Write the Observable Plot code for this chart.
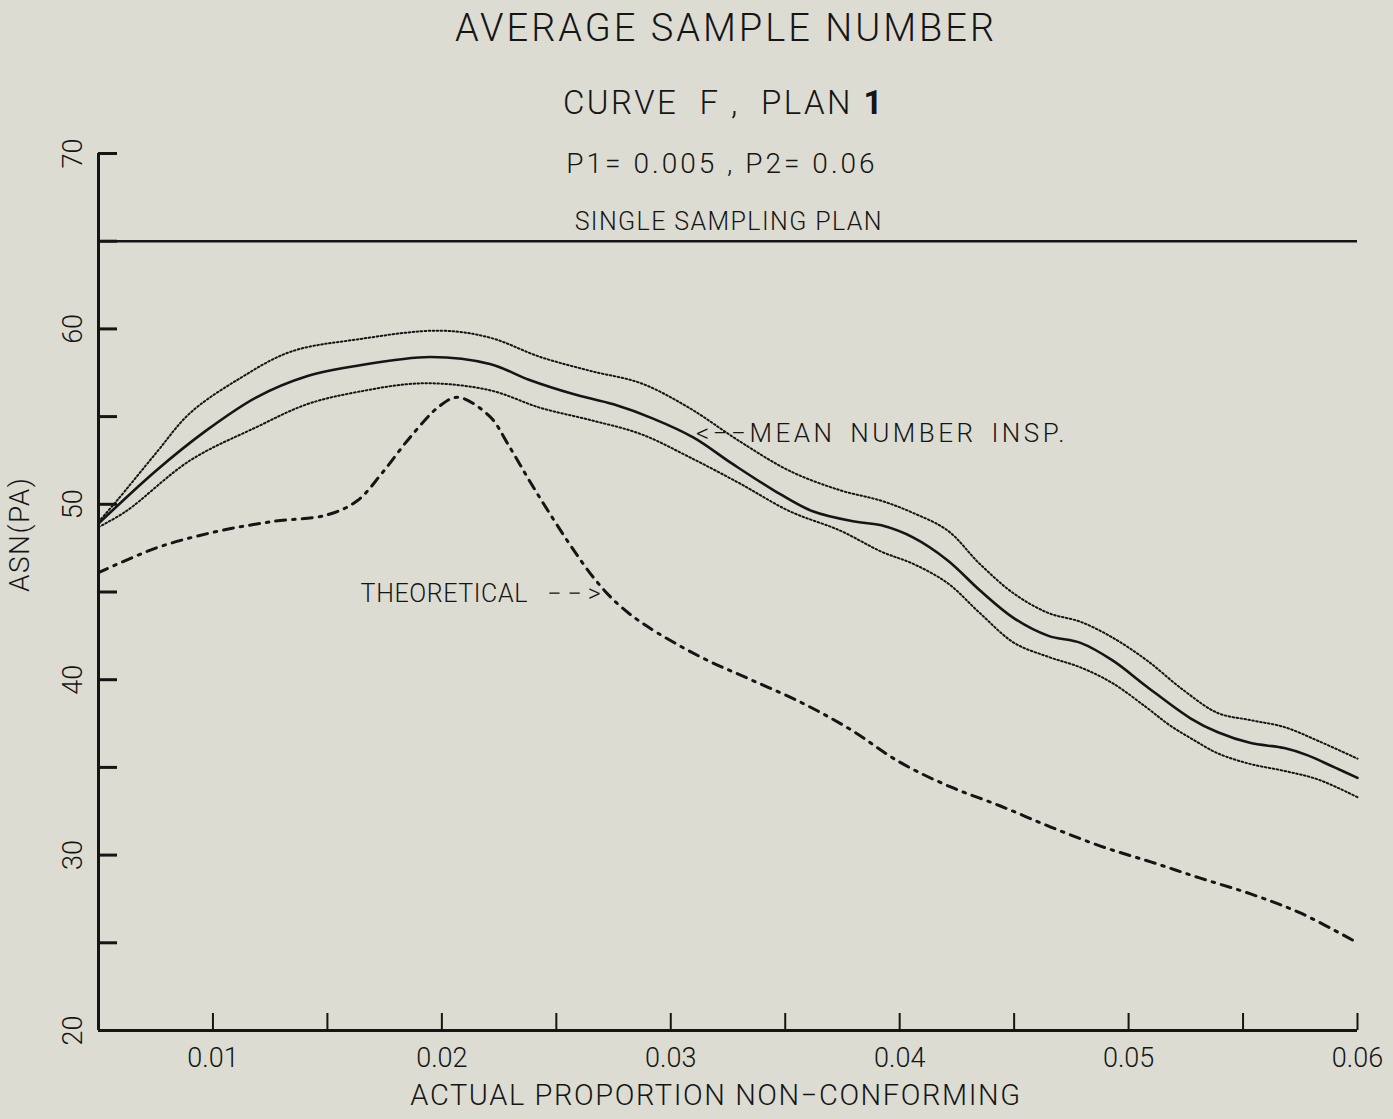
<!DOCTYPE html>
<html><head><meta charset="utf-8">
<script src="https://cdn.jsdelivr.net/npm/d3@7"></script>
<script src="https://cdn.jsdelivr.net/npm/@observablehq/plot@0.6"></script>
<style>
html,body{margin:0;padding:0;background:#dcdcd3;}
#wrap{position:relative;width:1393px;height:1119px;overflow:hidden;font-family:Roboto,"DejaVu Sans",sans-serif;font-weight:300;color:#151515;}
.t{position:absolute;width:1000px;text-align:center;white-space:pre;line-height:1;}
#chart{position:absolute;left:0;top:0;}
#chart text{font-weight:300;}
</style></head><body><div id="wrap">
<div id="chart"></div>
<div class="t" style="left:226px;top:9px;font-size:38px;letter-spacing:3px;">AVERAGE SAMPLE NUMBER</div>
<div class="t" style="left:224px;top:86px;font-size:33px;letter-spacing:2.5px;">CURVE  F ,  PLAN <b style="font-weight:700">1</b></div>
<div class="t" style="left:222px;top:150px;font-size:28px;letter-spacing:3px;">P1= 0.005 , P2= 0.06</div>
<div class="t" style="left:216px;top:1081px;font-size:29px;letter-spacing:1.6px;">ACTUAL PROPORTION NON−CONFORMING</div>
</div>
<script>
// ---- data ----
const xMean = [0.005,0.0075,0.0097,0.0119,0.0141,0.0163,0.0195,0.0221,0.0238,0.0257,0.0275,0.0292,0.0310,0.0327,0.0345,0.0362,0.0381,0.0392,0.0406,0.0421,0.0435,0.0450,0.0465,0.0479,0.0493,0.0508,0.0527,0.0539,0.0553,0.0568,0.0578,0.0590,0.0600];
const yMean = [48.9,51.9,54.2,56.1,57.3,57.9,58.4,58.0,57.1,56.3,55.7,54.9,53.8,52.3,50.8,49.6,49.0,48.8,48.1,46.8,45.1,43.5,42.5,42.1,41.1,39.6,37.8,37.0,36.4,36.1,35.7,35.0,34.4];

const xUpper = [0.005,0.0058,0.0075,0.0090,0.0112,0.0134,0.0163,0.0199,0.0221,0.0243,0.0265,0.0287,0.0308,0.0330,0.0352,0.0374,0.0392,0.0406,0.0421,0.0435,0.0450,0.0465,0.0479,0.0493,0.0508,0.0524,0.0539,0.0553,0.0568,0.0583,0.0600];
const yUpper = [49.0,50.2,52.9,55.2,57.2,58.7,59.4,59.9,59.5,58.4,57.6,56.9,55.5,53.6,51.9,50.8,50.2,49.5,48.5,46.6,44.9,43.8,43.3,42.4,41.1,39.4,38.1,37.7,37.3,36.5,35.5];

const xLower = [0.005,0.0062,0.0090,0.0119,0.0141,0.0163,0.0192,0.0221,0.0243,0.0265,0.0287,0.0308,0.0330,0.0352,0.0374,0.0392,0.0406,0.0421,0.0435,0.0450,0.0465,0.0479,0.0493,0.0508,0.0518,0.0528,0.0539,0.0553,0.0568,0.0583,0.0600];
const yLower = [48.7,49.6,52.5,54.4,55.7,56.4,56.9,56.5,55.5,54.8,54.0,52.7,51.2,49.6,48.5,47.3,46.6,45.5,43.8,42.1,41.3,40.7,39.8,38.4,37.4,36.6,35.8,35.2,34.8,34.3,33.3];

const xTheo = [0.005,0.0075,0.010,0.0125,0.015,0.0163,0.0174,0.0186,0.0199,0.0207,0.0221,0.0229,0.0238,0.0247,0.0257,0.0267,0.0277,0.0289,0.0313,0.0335,0.0357,0.0378,0.040,0.0422,0.0444,0.0466,0.0488,0.051,0.0531,0.0553,0.0575,0.060];
const yTheo = [46.1,47.5,48.4,49.0,49.4,50.2,51.8,53.8,55.6,56.1,55.0,53.4,51.4,49.5,47.5,45.7,44.3,43.1,41.3,40.0,38.7,37.2,35.3,33.9,32.8,31.6,30.5,29.6,28.7,27.8,26.7,25.0];

const singlePlan = [65];
const yTicks = [20,25,30,35,40,45,50,55,60,65,70];
const yTickLabels = [20,30,40,50,60,70];
const xTicks = [0.01,0.015,0.02,0.025,0.03,0.035,0.04,0.045,0.05,0.055,0.06];
const xTickLabels = ["0.01","0.02","0.03","0.04","0.05","0.06"];

const zip = (xs, ys) => xs.map((x, i) => ({x, y: ys[i]}));
const ink = "#151515";

const chart = Plot.plot({
  width: 1393, height: 1119,
  marginLeft: 98, marginRight: 36, marginTop: 153, marginBottom: 89,
  x: {domain: [0.005, 0.06]},
  y: {domain: [20, 70]},
  style: {background: "transparent", fontFamily: "Roboto, 'DejaVu Sans', sans-serif", fontSize: "27px", color: ink},
  marks: [
    Plot.ruleY(singlePlan, {stroke: ink, strokeWidth: 2.5}),
    Plot.ruleY([20], {stroke: ink, strokeWidth: 3}),
    Plot.ruleX([0.005], {y1: 20, y2: 70, stroke: ink, strokeWidth: 3}),
    Plot.axisY({ticks: yTicks, anchor: "left", tickSize: -19, tickPadding: 0, tickFormat: () => "", label: null, strokeWidth: 3, stroke: ink}),
    Plot.axisX({ticks: xTicks, anchor: "bottom", tickSize: -17, tickPadding: 0, tickFormat: () => "", label: null, strokeWidth: 2, stroke: ink}),
    Plot.text(yTickLabels, {x: () => 0.005, y: d => d, text: d => String(d), rotate: -90, dx: -25, fontSize: 27, fill: ink}),
    Plot.text(xTickLabels, {x: d => +d, y: () => 20, text: d => d, dy: 28, fontSize: 27, fill: ink}),
    Plot.text(["ASN(PA)"], {frameAnchor: "left", text: d => d, rotate: -90, dx: -78, fontSize: 28, fill: ink}),
    Plot.line(zip(xTheo, yTheo), {x: "x", y: "y", curve: "catmull-rom", stroke: ink, strokeWidth: 3, strokeDasharray: "10 7 2.5 7"}),
    Plot.line(zip(xUpper, yUpper), {x: "x", y: "y", curve: "catmull-rom", stroke: ink, strokeWidth: 2, strokeDasharray: "1.6 2.4"}),
    Plot.line(zip(xLower, yLower), {x: "x", y: "y", curve: "catmull-rom", stroke: ink, strokeWidth: 2, strokeDasharray: "1.6 2.4"}),
    Plot.line(zip(xMean, yMean), {x: "x", y: "y", curve: "catmull-rom", stroke: ink, strokeWidth: 2.6}),
    Plot.text(["SINGLE SAMPLING PLAN"], {x: () => 0.0258, y: () => 65, text: d => d, textAnchor: "start", dy: -19, fontSize: 25, fill: ink}),
    Plot.text(["<−−MEAN NUMBER INSP."], {x: () => 0.0311, y: () => 54.05, text: d => d, textAnchor: "start", fontSize: 26, fill: ink}),
    Plot.text(["THEORETICAL"], {x: () => 0.01645, y: () => 44.9, text: d => d, textAnchor: "start", fontSize: 25, fill: ink}),
    Plot.text(["−−>"], {x: () => 0.0272, y: () => 44.9, text: d => d, textAnchor: "end", fontSize: 25, fill: ink})
  ]
});
// letter spacing for plotter-style annotation text
const spacing = {"SINGLE SAMPLING PLAN": [1.4, 0], "<−−MEAN NUMBER INSP.": [3.5, 5], "THEORETICAL": [0.6, 0], "−−>": [6, 0], "ASN(PA)": [1.5, 0]};
d3.select(chart).selectAll("text").each(function() {
  const s = spacing[this.textContent];
  if (s != null) { this.setAttribute("letter-spacing", s[0]); this.setAttribute("word-spacing", s[1]); }
});
document.getElementById("chart").appendChild(chart);
</script>
</body></html>
